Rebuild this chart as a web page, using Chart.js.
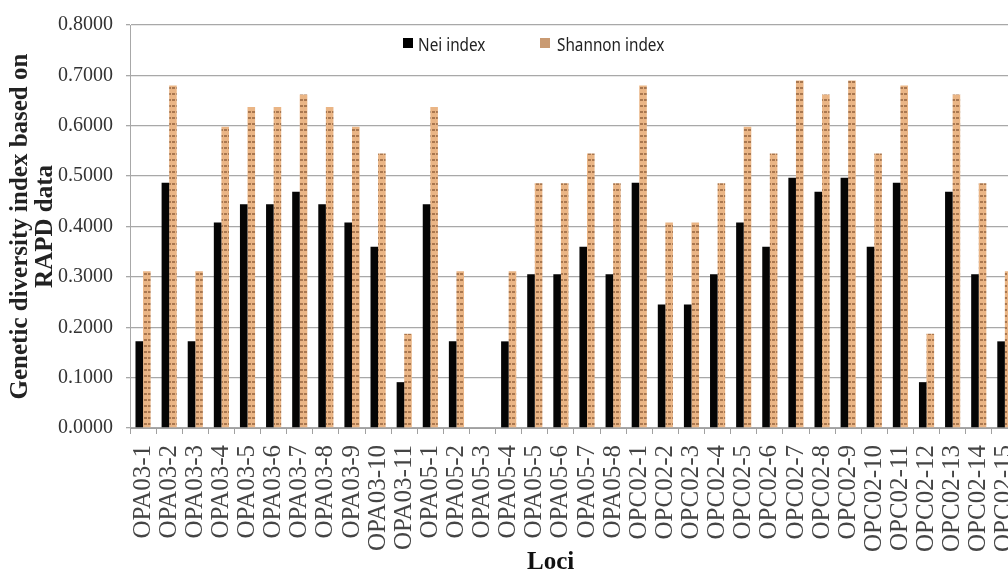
<!DOCTYPE html>
<html lang="en">

<head>
    <meta charset="UTF-8">
    <title>Genetic diversity index - RAPD</title>
    <script src="https://cdn.jsdelivr.net/npm/chart.js"></script>
    <style>
        body { margin: 0; width: 1008px; height: 575px; overflow: hidden; background: #fff; }
        #box { position: absolute; left: 0; top: 0; width: 1046px; height: 575px; }
        .leg { position: absolute; top: 32px; font-family: 'Noto Sans', sans-serif; font-size: 18px; color: #222;
               transform: scaleX(0.85); transform-origin: left center; white-space: nowrap; }
        .sq { position: absolute; top: 38px; width: 10px; height: 10px; }
        #loci { position: absolute; left: 527px; top: 547px; font-family: 'Liberation Serif', serif;
                font-weight: bold; font-size: 25px; color: #111; }
    </style>
</head>

<body>
    <div id="box">
        <canvas id="grafico" width="1046" height="575"></canvas>
    </div>
    <div class="sq" style="left: 403px; background: #000;"></div>
    <div class="leg" style="left: 418px;">Nei index</div>
    <div class="sq" style="left: 540px; background: #c99a72;"></div>
    <div class="leg" style="left: 557px;">Shannon index</div>
    <div id="loci">Loci</div>
</body>

</html>
<script>
    const categorias = [
        'OPA03-1', 'OPA03-2', 'OPA03-3', 'OPA03-4', 'OPA03-5', 'OPA03-6', 'OPA03-7', 'OPA03-8',
        'OPA03-9', 'OPA03-10', 'OPA03-11',
        'OPA05-1', 'OPA05-2', 'OPA05-3', 'OPA05-4', 'OPA05-5', 'OPA05-6', 'OPA05-7', 'OPA05-8',
        'OPC02-1', 'OPC02-2', 'OPC02-3', 'OPC02-4', 'OPC02-5', 'OPC02-6', 'OPC02-7', 'OPC02-8',
        'OPC02-9', 'OPC02-10', 'OPC02-11', 'OPC02-12', 'OPC02-13', 'OPC02-14', 'OPC02-15'
    ]
    const nei = [
        0.172, 0.487, 0.172, 0.408, 0.444, 0.444, 0.469, 0.444, 0.408, 0.360, 0.091,
        0.444, 0.172, 0, 0.172, 0.305, 0.305, 0.360, 0.305,
        0.487, 0.245, 0.245, 0.305, 0.408, 0.360, 0.497, 0.469, 0.497, 0.360, 0.487, 0.091, 0.469, 0.305, 0.172
    ]
    const shannon = [
        0.311, 0.680, 0.311, 0.598, 0.637, 0.637, 0.662, 0.637, 0.598, 0.545, 0.187,
        0.637, 0.311, 0, 0.311, 0.486, 0.486, 0.545, 0.486,
        0.680, 0.408, 0.408, 0.486, 0.598, 0.545, 0.690, 0.662, 0.690, 0.545, 0.680, 0.187, 0.662, 0.486, 0.311
    ]
    const tituloY = ['Genetic diversity index based on', 'RAPD data']

    // striped tan fill for the Shannon bars
    const tile = document.createElement('canvas')
    tile.width = 4
    tile.height = 6
    const t = tile.getContext('2d')
    t.fillStyle = '#eab585'
    t.fillRect(0, 0, 4, 6)
    t.fillStyle = '#a9774f'
    t.fillRect(0, 3, 3, 2)
    const listras = t.createPattern(tile, 'repeat')

    new Chart(grafico, {
        type: 'bar',
        data: {
            labels: categorias,
            datasets: [{
                label: 'Nei index',
                backgroundColor: '#050505',
                data: nei,
            },
            {
                label: 'Shannon index',
                backgroundColor: listras,
                data: shannon,
            }]
        },
        options: {
            responsive: false,
            animation: false,
            layout: { padding: { left: 8, right: 9, top: 13, bottom: 0 } },
            plugins: { legend: { display: false }, tooltip: { enabled: false } },
            datasets: { bar: { categoryPercentage: 0.58, barPercentage: 1.0 } },
            scales: {
                x: {
                    grid: { drawOnChartArea: false, color: '#a0a0a0', tickLength: 6 },
                    border: { color: '#a0a0a0' },
                    ticks: {
                        minRotation: 90, maxRotation: 90, autoSkip: false, padding: 11,
                        color: '#444', font: { family: 'Liberation Serif', size: 25 }
                    },
                    afterFit(s) { s.height = 147 }
                },
                y: {
                    min: 0, max: 0.8,
                    grid: { color: '#a8a8a8', lineWidth: 1.3, tickLength: 4 },
                    border: { color: '#a8a8a8' },
                    ticks: {
                        stepSize: 0.1, padding: 13, color: '#333',
                        font: { family: 'Liberation Serif', size: 20 },
                        callback: v => v.toFixed(4)
                    },
                    title: {
                        display: true, text: tituloY, color: '#222', padding: 0,
                        font: { family: 'Liberation Serif', size: 25, weight: 'bold', lineHeight: 1.0 }
                    },
                    afterFit(s) { s.width = 122 }
                }
            }
        }
    })
</script>
